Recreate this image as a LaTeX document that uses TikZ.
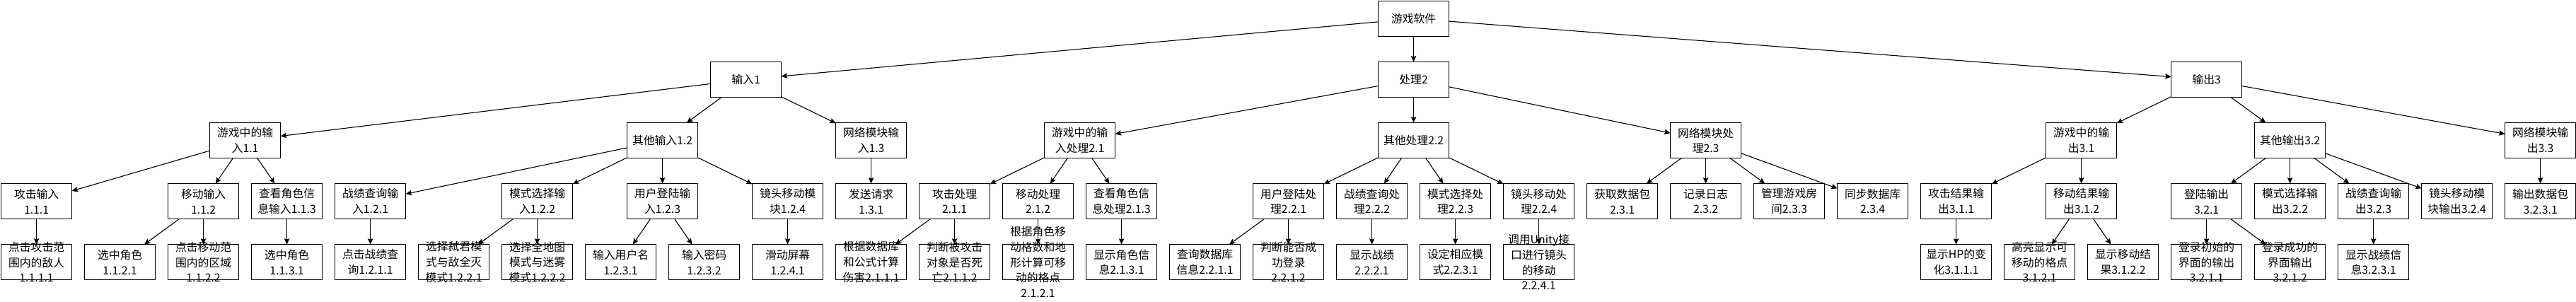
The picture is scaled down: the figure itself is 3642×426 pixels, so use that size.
\documentclass[tikz,border=0pt]{standalone}
\usepackage{fontspec}
\setmainfont{Noto Sans CJK SC}
\usetikzlibrary{arrows.meta}
\tikzset{
  box/.style={draw=black, fill=white, line width=1.1pt, minimum width=100pt, minimum height=50pt, inner sep=0pt, outer sep=0pt},
  txt/.style={align=center, inner sep=0pt, text=black, font=\fontsize{15.8pt}{21.7pt}\selectfont},
  edge/.style={draw=black, line width=1.1pt, -{Stealth[length=8.5pt,width=7.5pt,inset=1.5pt]}}
}
\newcommand{\bx}[4]{\node[box] (#1) at ({51.6+118*#2},{26.3+86.1*#3}) {};
  \node[txt] (#1t) at (#1) {#4};}
\begin{document}
\begin{tikzpicture}[x=1pt,y=-1pt]
\useasboundingbox (0,0) rectangle (3642,426);
\fill[white] (0,0) rectangle (3642,426);
% row 0
\bx{r}{16.5}{0}{游戏软件}
% row 1
\bx{n1}{8.5}{1}{输入1}
\bx{n2}{16.5}{1}{处理2}
\bx{n3}{26}{1}{输出3}
% row 2
\bx{n11}{2.5}{2}{游戏中的输\\入1.1}
\bx{n12}{7.5}{2}{其他输入1.2}
\bx{n13}{10}{2}{网络模块输\\入1.3}
\bx{n21}{12.5}{2}{游戏中的输\\入处理2.1}
\bx{n22}{16.5}{2}{其他处理2.2}
\bx{n23}{20}{2}{网络模块处\\理2.3}
\bx{n31}{24.5}{2}{游戏中的输\\出3.1}
\bx{n32}{27}{2}{其他输出3.2}
\bx{n33}{30}{2}{网络模块输\\出3.3}
% row 3
\bx{n111}{0}{3}{攻击输入\\1.1.1}
\bx{n112}{2}{3}{移动输入\\1.1.2}
\bx{n113}{3}{3}{查看角色信\\息输入1.1.3}
\bx{n121}{4}{3}{战绩查询输\\入1.2.1}
\bx{n122}{6}{3}{模式选择输\\入1.2.2}
\bx{n123}{7.5}{3}{用户登陆输\\入1.2.3}
\bx{n124}{9}{3}{镜头移动模\\块1.2.4}
\bx{n131}{10}{3}{发送请求\\1.3.1}
\bx{n211}{11}{3}{攻击处理\\2.1.1}
\bx{n212}{12}{3}{移动处理\\2.1.2}
\bx{n213}{13}{3}{查看角色信\\息处理2.1.3}
\bx{n221}{15}{3}{用户登陆处\\理2.2.1}
\bx{n222}{16}{3}{战绩查询处\\理2.2.2}
\bx{n223}{17}{3}{模式选择处\\理2.2.3}
\bx{n224}{18}{3}{镜头移动处\\理2.2.4}
\bx{n231}{19}{3}{获取数据包\\2.3.1}
\bx{n232}{20}{3}{记录日志\\2.3.2}
\bx{n233}{21}{3}{管理游戏房\\间2.3.3}
\bx{n234}{22}{3}{同步数据库\\2.3.4}
\bx{n311}{23}{3}{攻击结果输\\出3.1.1}
\bx{n312}{24.5}{3}{移动结果输\\出3.1.2}
\bx{n321}{26}{3}{登陆输出\\3.2.1}
\bx{n322}{27}{3}{模式选择输\\出3.2.2}
\bx{n323}{28}{3}{战绩查询输\\出3.2.3}
\bx{n324}{29}{3}{镜头移动模\\块输出3.2.4}
\bx{n331}{30}{3}{输出数据包\\3.2.3.1}
% row 4
\bx{n1111}{0}{4}{点击攻击范\\围内的敌人\\1.1.1.1}
\bx{n1121}{1}{4}{选中角色\\1.1.2.1}
\bx{n1122}{2}{4}{点击移动范\\围内的区域\\1.1.2.2}
\bx{n1131}{3}{4}{选中角色\\1.1.3.1}
\bx{n1211}{4}{4}{点击战绩查\\询1.2.1.1}
\bx{n1221}{5}{4}{选择弑君模\\式与敌全灭\\模式1.2.2.1}
\bx{n1222}{6}{4}{选择全地图\\模式与迷雾\\模式1.2.2.2}
\bx{n1231}{7}{4}{输入用户名\\1.2.3.1}
\bx{n1232}{8}{4}{输入密码\\1.2.3.2}
\bx{n1241}{9}{4}{滑动屏幕\\1.2.4.1}
\bx{n2111}{10}{4}{根据数据库\\和公式计算\\伤害2.1.1.1}
\bx{n2112}{11}{4}{判断被攻击\\对象是否死\\亡2.1.1.2}
\bx{n2121}{12}{4}{根据角色移\\动格数和地\\形计算可移\\动的格点\\2.1.2.1}
\bx{n2131}{13}{4}{显示角色信\\息2.1.3.1}
\bx{n2211}{14}{4}{查询数据库\\信息2.2.1.1}
\bx{n2212}{15}{4}{判断能否成\\功登录\\2.2.1.2}
\bx{n2221}{16}{4}{显示战绩\\2.2.2.1}
\bx{n2231}{17}{4}{设定相应模\\式2.2.3.1}
\bx{n2241}{18}{4}{调用Unity接\\口进行镜头\\的移动\\2.2.4.1}
\bx{n3111}{23}{4}{显示HP的变\\化3.1.1.1}
\bx{n3121}{24}{4}{高亮显示可\\移动的格点\\3.1.2.1}
\bx{n3122}{25}{4}{显示移动结\\果3.1.2.2}
\bx{n3211}{26}{4}{登录初始的\\界面的输出\\3.2.1.1}
\bx{n3212}{27}{4}{登录成功的\\界面输出\\3.2.1.2}
\bx{n3231}{28}{4}{显示战绩信\\息3.2.3.1}
% edges
\foreach \p/\c in {r/n1, r/n2, r/n3,
  n1/n11, n1/n12, n1/n13,
  n11/n111, n11/n112, n11/n113,
  n12/n121, n12/n122, n12/n123, n12/n124,
  n13/n131,
  n111/n1111, n112/n1121, n112/n1122, n113/n1131,
  n121/n1211, n122/n1221, n122/n1222, n123/n1231, n123/n1232, n124/n1241,
  n2/n21, n2/n22, n2/n23,
  n21/n211, n21/n212, n21/n213,
  n211/n2111, n211/n2112, n212/n2121, n213/n2131,
  n22/n221, n22/n222, n22/n223, n22/n224,
  n221/n2211, n221/n2212, n222/n2221, n223/n2231, n224/n2241,
  n23/n231, n23/n232, n23/n233, n23/n234,
  n3/n31, n3/n32, n3/n33,
  n31/n311, n31/n312,
  n311/n3111, n312/n3121, n312/n3122,
  n32/n321, n32/n322, n32/n323, n32/n324,
  n321/n3211, n321/n3212, n323/n3231,
  n33/n331}
  \draw[edge] (\p) -- (\c);
\end{tikzpicture}
\end{document}
